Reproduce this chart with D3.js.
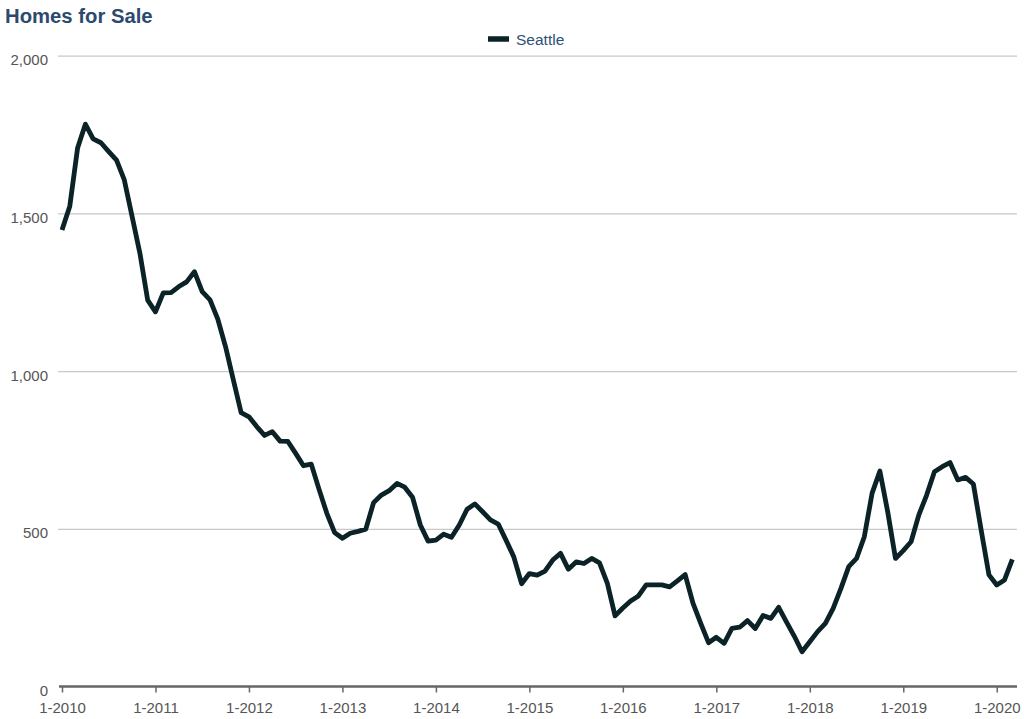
<!DOCTYPE html>
<html>
<head>
<meta charset="utf-8">
<script src="https://cdn.jsdelivr.net/npm/d3@7"></script>
<style>
  body { margin: 0; background: #fff; }
  svg { display: block; font-family: "Liberation Sans", Arial, sans-serif; }
</style>
</head>
<body>
<svg id="chart" width="1024" height="719"></svg>
<script>
// monthly values starting 1-2010
var startYear = 2010;
var seattle = [
  1447, 1523, 1707, 1783, 1736, 1724, 1696, 1669, 1606, 1490, 1374, 1225,
  1188, 1248, 1249, 1268, 1283, 1315, 1252, 1226, 1165, 1077, 972, 868,
  855, 824, 796, 808, 778, 777, 739, 700, 705, 625, 549, 488,
  470, 486, 492, 499, 583, 607, 621, 644, 632, 600, 512, 461,
  464, 483, 473, 512, 562, 579, 554, 528, 515, 464, 411, 326,
  358, 353, 366, 401, 422, 372, 395, 390, 406, 392, 328, 224,
  249, 271, 287, 322, 322, 322, 316, 335, 355, 264, 200, 139,
  156, 137, 184, 188, 209, 184, 225, 216, 251, 205, 160, 110,
  142, 174, 200, 248, 311, 380, 406, 475, 613, 683, 554, 406,
  431, 459, 544, 607, 681, 697, 710, 655, 663, 642, 496, 354,
  322, 338, 403
];
var yTicks = [0, 500, 1000, 1500, 2000];
var xTickLabels = ["1-2010", "1-2011", "1-2012", "1-2013", "1-2014", "1-2015",
  "1-2016", "1-2017", "1-2018", "1-2019", "1-2020"];

var lineColor = "#0b2226";
var svg = d3.select("#chart");

var x = d3.scaleLinear().domain([0, 122.6]).range([62, 1017]);
var y = d3.scaleLinear().domain([0, 2000]).range([686.5, 55.7]);

// title
svg.append("text")
  .attr("x", 5).attr("y", 22.5)
  .attr("font-size", "20.3px").attr("font-weight", "bold")
  .attr("fill", "#2b4a6e")
  .text("Homes for Sale");

// legend
svg.append("line")
  .attr("x1", 488).attr("x2", 509).attr("y1", 39).attr("y2", 39)
  .attr("stroke", lineColor).attr("stroke-width", 5.5);
svg.append("text")
  .attr("x", 516).attr("y", 44.5)
  .attr("font-size", "15.5px").attr("fill", "#2e5079")
  .text("Seattle");

// y grid + labels
var gy = svg.append("g")
  .attr("transform", "translate(58,0)")
  .call(d3.axisLeft(y).tickValues(yTicks).tickFormat(d3.format(","))
    .tickSize(-(1017 - 58)).tickPadding(10));
gy.select(".domain").remove();
gy.selectAll(".tick line").attr("stroke", "#c8c8c8").attr("stroke-width", 1.2);
gy.selectAll(".tick").filter(function(d) { return d === 0; }).select("line").remove();
gy.selectAll(".tick text")
  .attr("font-size", "15px").attr("fill", "#555")
  .attr("font-family", "Liberation Sans, Arial, sans-serif")
  .attr("dy", "0.6em");

// x axis
var gx = svg.append("g")
  .attr("transform", "translate(0," + y(0) + ")")
  .call(d3.axisBottom(x)
    .tickValues(d3.range(0, 121, 12))
    .tickFormat(function(d, i) { return xTickLabels[i]; })
    .tickSize(6));
gx.select(".domain").remove();
gx.selectAll(".tick line").attr("stroke", "#666").attr("stroke-width", 1.5);
gx.selectAll(".tick text")
  .attr("font-size", "15px").attr("fill", "#555")
  .attr("font-family", "Liberation Sans, Arial, sans-serif")
  .attr("y", 16).attr("dy", "0.71em");
gx.append("line")
  .attr("x1", 59 ).attr("x2", 1017).attr("y1", 0).attr("y2", 0)
  .attr("stroke", "#666").attr("stroke-width", 2.6);

// series line
var line = d3.line()
  .x(function(d, i) { return x(i); })
  .y(function(d) { return y(d); });

svg.append("path")
  .datum(seattle)
  .attr("fill", "none")
  .attr("stroke", lineColor)
  .attr("stroke-width", 4.8)
  .attr("stroke-linejoin", "round")
  .attr("stroke-linecap", "butt")
  .attr("d", line);
</script>
</body>
</html>
